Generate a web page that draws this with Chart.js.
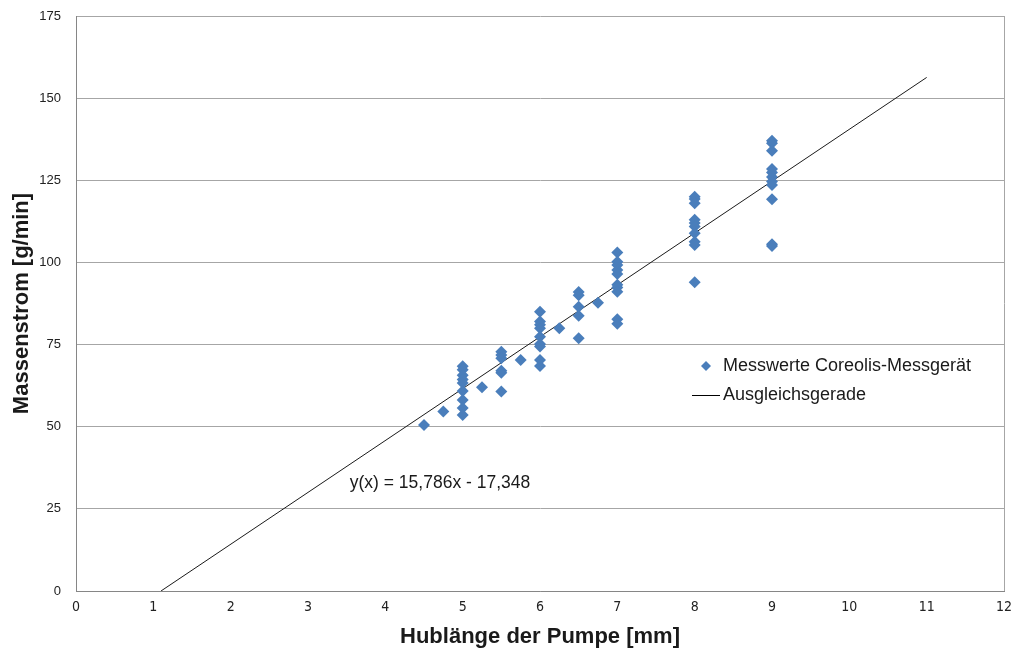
<!DOCTYPE html>
<html>
<head>
<meta charset="utf-8">
<script src="https://cdn.jsdelivr.net/npm/chart.js@4.4.0/dist/chart.umd.min.js"></script>
<style>
html,body{margin:0;padding:0;background:#fff;}
#wrap{width:1013px;height:655px;position:relative;}
</style>
</head>
<body>
<div id="wrap"><canvas id="c" width="1013" height="655"></canvas></div>
<script>
// Measured data (Hublänge [mm] -> Massenstrom [g/min])
const hubX = [
  4.5, 4.75,
  5,5,5,5,5,5,5,5,5,
  5.25,
  5.5,5.5,5.5,5.5,5.5,5.5,
  5.75,
  6,6,6,6,6,6,6,6,6,
  6.25,
  6.5,6.5,6.5,6.5,6.5,
  6.75,
  7,7,7,7,7,7,7,7,7,7,
  8,8,8,8,8,8,8,8,8,8,
  9,9,9,9,9,9,9,9,9,9,9
];
const massY = [
  50.5, 54.6,
  68.4,67.3,65.7,64.4,63.3,60.9,58.1,55.7,53.6,
  62.0,
  72.8,71.8,70.8,67.0,66.4,60.7,
  70.3,
  85.0,82.0,81.0,80.0,77.4,75.2,74.4,70.3,68.5,
  80.0,
  91.0,90.0,86.5,83.8,76.9,
  87.7,
  103.0,100.2,99.2,97.7,96.5,93.2,92.4,91.1,82.7,81.3,
  120.0,119.3,118.0,113.0,112.0,110.9,108.9,106.3,105.3,94.0,
  137.0,136.3,134.0,128.4,127.4,126.0,124.6,123.6,119.2,105.5,105.0
];
// Regression line endpoints
const fitX = [1.099, 11];
const fitY = [0, 156.3];
const equationText = "y(x) = 15,786x - 17,348";
const equationPos = {x: 3.54, y: 32.9};
const xTitle = "Hublänge der Pumpe [mm]";
const yTitle = "Massenstrom [g/min]";
const seriesLabels = ["Messwerte Coreolis-Messgerät", "Ausgleichsgerade"];

const blue = '#4a7ebb';
const points = hubX.map((x, i) => ({x: x, y: massY[i]}));
const fitPts = fitX.map((x, i) => ({x: x, y: fitY[i]}));

const boxPlugin = {
  id: 'box',
  afterDraw(chart) {
    const {ctx, chartArea: a, scales} = chart;
    ctx.save();
    ctx.strokeStyle = '#a6a6a6';
    ctx.lineWidth = 1;
    ctx.beginPath();
    ctx.moveTo(a.right + 0.5, a.top);
    ctx.lineTo(a.right + 0.5, a.bottom);
    ctx.stroke();
    // equation
    ctx.fillStyle = '#1a1a1a';
    ctx.font = '17.5px "Liberation Sans", Arial, sans-serif';
    ctx.textBaseline = 'middle';
    ctx.textAlign = 'left';
    ctx.fillText(equationText, scales.x.getPixelForValue(equationPos.x), scales.y.getPixelForValue(equationPos.y));
    // legend
    const lx = 723, ly1 = 366, ly2 = 395;
    ctx.font = '18px "Liberation Sans", Arial, sans-serif';
    ctx.fillStyle = '#1a1a1a';
    ctx.fillText(chart.data.datasets[0].label, lx, ly1);
    ctx.fillText(chart.data.datasets[1].label, lx, ly2);
    ctx.fillStyle = blue;
    ctx.beginPath();
    ctx.moveTo(706, ly1 - 5); ctx.lineTo(711, ly1); ctx.lineTo(706, ly1 + 5); ctx.lineTo(701, ly1);
    ctx.closePath(); ctx.fill();
    ctx.strokeStyle = '#000';
    ctx.beginPath();
    ctx.moveTo(692, ly2 + 0.5); ctx.lineTo(720, ly2 + 0.5);
    ctx.stroke();
    ctx.restore();
  }
};

new Chart(document.getElementById('c'), {
  type: 'scatter',
  data: {
    datasets: [
      {
        label: seriesLabels[0],
        data: points,
        pointStyle: 'rectRot',
        pointRadius: 6,
        pointHoverRadius: 6,
        backgroundColor: blue,
        borderColor: blue,
        borderWidth: 0,
        order: 1
      },
      {
        label: seriesLabels[1],
        data: fitPts,
        showLine: true,
        pointRadius: 0,
        borderColor: '#1a1a1a',
        borderWidth: 1,
        order: 2
      }
    ]
  },
  options: {
    responsive: false,
    animation: false,
    layout: {padding: {top: 16, right: 9, left: 0, bottom: 0}},
    plugins: {legend: {display: false}, tooltip: {enabled: false}},
    scales: {
      x: {
        type: 'linear', min: 0, max: 12,
        ticks: {stepSize: 1, padding: 8, color: '#222', font: {family: '"DejaVu Sans Condensed", "Liberation Sans Narrow", "Liberation Sans", Arial', size: 14}},
        grid: {display: false, drawTicks: false},
        border: {display: true, color: '#868686', width: 1},
        title: {display: true, text: xTitle, color: '#1a1a1a', font: {family: '"Liberation Sans", Arial', size: 22, weight: 'bold'}, padding: {top: 5, bottom: 5}},
        afterFit(s) { s.height = 64; s.paddingLeft = 0; s.paddingRight = 0; }
      },
      y: {
        type: 'linear', min: 0, max: 175,
        ticks: {stepSize: 25, padding: 15, color: '#222', font: {family: '"Liberation Sans", Arial', size: 13}},
        grid: {color: '#a6a6a6', drawTicks: false},
        border: {display: true, color: '#868686', width: 1},
        title: {display: true, text: yTitle, color: '#1a1a1a', font: {family: '"Liberation Sans", Arial', size: 22, weight: 'bold'}, padding: {top: 9, bottom: 4}},
        afterFit(s) { s.width = 76; s.paddingTop = 0; s.paddingBottom = 0; }
      }
    }
  },
  plugins: [boxPlugin]
});
</script>
</body>
</html>
